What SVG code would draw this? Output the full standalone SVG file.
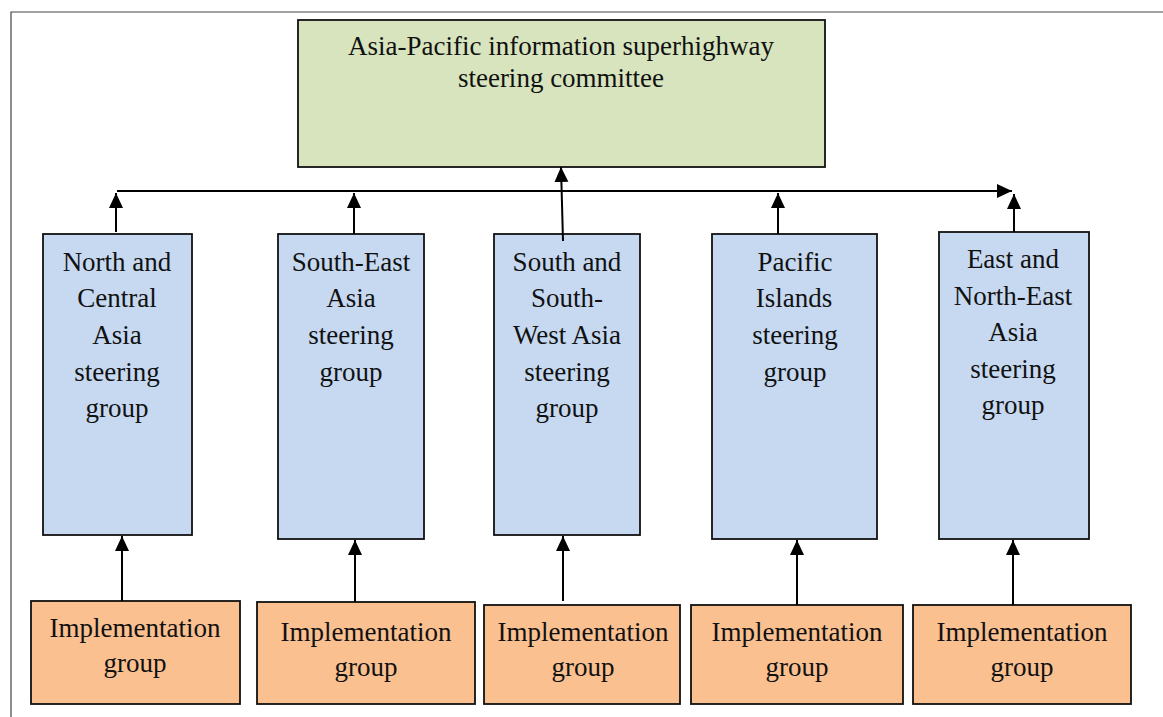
<svg xmlns="http://www.w3.org/2000/svg" width="1163" height="717" viewBox="0 0 1163 717">
<style>
text{font-family:"Liberation Serif","Times New Roman",serif;font-size:27px;fill:#111;text-anchor:middle}
.box{stroke:#111;stroke-width:1.8}
.top{fill:#D7E4BD}
.mid{fill:#C6D9F1}
.low{fill:#FAC090}
.con{stroke:#000;stroke-width:2;fill:none}
.frame{stroke:#444;stroke-width:1.2;fill:none}
</style>
<defs>
<marker id="ah" markerUnits="userSpaceOnUse" markerWidth="16" markerHeight="16" viewBox="0 0 16 16" refX="15" refY="8" orient="auto">
<path d="M0,1 L15,8 L0,15 Z" fill="#000"/>
</marker>
</defs>
<path class="frame" d="M11,717 V12 H1163"/>
<g id="committee">
<rect class="box top" x="298" y="20" width="527" height="147"/>
<text x="561" y="55">Asia-Pacific information superhighway</text>
<text x="561" y="87">steering committee</text>
</g>
<g id="sg1">
<rect class="box mid" x="43" y="234" width="149" height="301"/>
<text x="117" y="271">North and</text>
<text x="117" y="307">Central</text>
<text x="117" y="344">Asia</text>
<text x="117" y="381">steering</text>
<text x="117" y="417">group</text>
</g>
<g id="sg2">
<rect class="box mid" x="278" y="234" width="146" height="305"/>
<text x="351" y="271">South-East</text>
<text x="351" y="307">Asia</text>
<text x="351" y="344">steering</text>
<text x="351" y="381">group</text>
</g>
<g id="sg3">
<rect class="box mid" x="494" y="234" width="146" height="301"/>
<text x="567" y="271">South and</text>
<text x="567" y="307">South-</text>
<text x="567" y="344">West Asia</text>
<text x="567" y="381">steering</text>
<text x="567" y="417">group</text>
</g>
<g id="sg4">
<rect class="box mid" x="712" y="234" width="165" height="305"/>
<text x="795" y="271">Pacific</text>
<text x="794" y="307">Islands</text>
<text x="795" y="344">steering</text>
<text x="795" y="381">group</text>
</g>
<g id="sg5">
<rect class="box mid" x="939" y="232" width="150" height="307"/>
<text x="1013" y="268">East and</text>
<text x="1013" y="305">North-East</text>
<text x="1013" y="341">Asia</text>
<text x="1013" y="378">steering</text>
<text x="1013" y="414">group</text>
</g>
<g id="ig1">
<rect class="box low" x="31" y="601" width="209" height="103"/>
<text x="135" y="637">Implementation</text>
<text x="135" y="672">group</text>
</g>
<g id="ig2">
<rect class="box low" x="257" y="602" width="218" height="102"/>
<text x="366" y="641">Implementation</text>
<text x="366" y="676">group</text>
</g>
<g id="ig3">
<rect class="box low" x="484" y="605" width="196" height="99"/>
<text x="583" y="641">Implementation</text>
<text x="583" y="676">group</text>
</g>
<g id="ig4">
<rect class="box low" x="691" y="605" width="212" height="99"/>
<text x="797" y="641">Implementation</text>
<text x="797" y="676">group</text>
</g>
<g id="ig5">
<rect class="box low" x="913" y="605" width="218" height="99"/>
<text x="1022" y="641">Implementation</text>
<text x="1022" y="676">group</text>
</g>
<g id="connectors">
<line class="con" x1="117" y1="191" x2="1012" y2="191" marker-end="url(#ah)"/>
<line class="con" x1="116" y1="232" x2="116" y2="193" marker-end="url(#ah)"/>
<line class="con" x1="354" y1="234" x2="354" y2="193" marker-end="url(#ah)"/>
<line class="con" x1="563" y1="241" x2="561" y2="167" marker-end="url(#ah)"/>
<line class="con" x1="778" y1="234" x2="778" y2="193" marker-end="url(#ah)"/>
<line class="con" x1="1014" y1="232" x2="1014" y2="194" marker-end="url(#ah)"/>
<line class="con" x1="122" y1="601" x2="122" y2="536" marker-end="url(#ah)"/>
<line class="con" x1="355" y1="602" x2="355" y2="540" marker-end="url(#ah)"/>
<line class="con" x1="563" y1="601" x2="563" y2="536" marker-end="url(#ah)"/>
<line class="con" x1="797" y1="605" x2="797" y2="540" marker-end="url(#ah)"/>
<line class="con" x1="1013" y1="605" x2="1013" y2="540" marker-end="url(#ah)"/>
</g>
</svg>
